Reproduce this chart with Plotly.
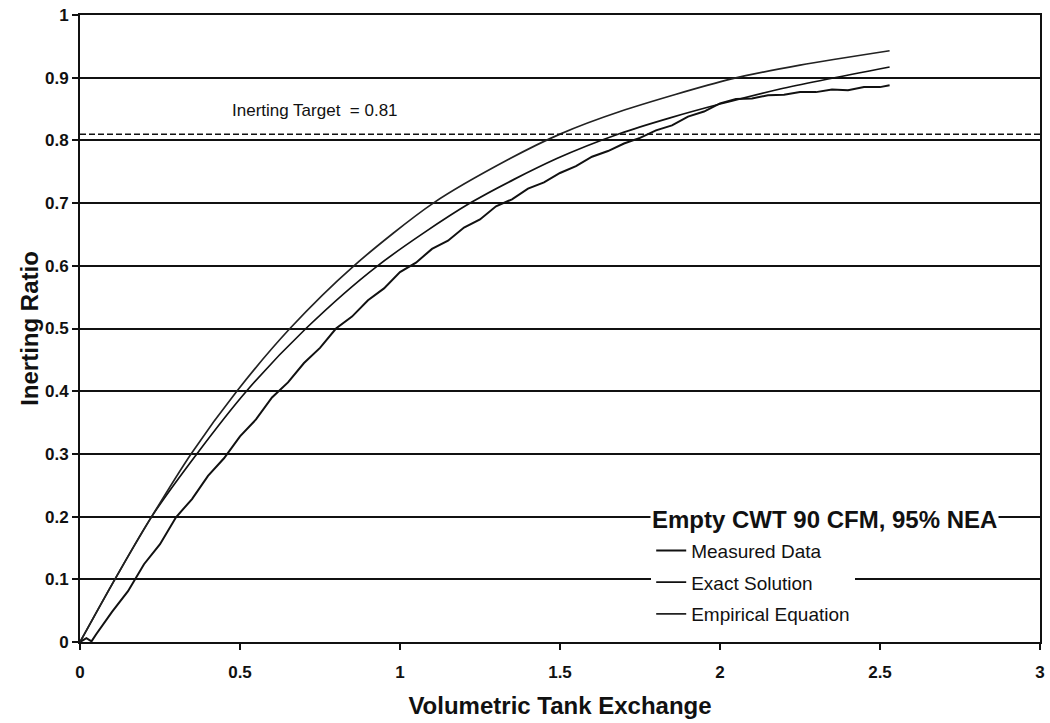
import plotly.graph_objects as go

# ---- data ----
measured_x = [0.00, 0.02, 0.036, 0.05, 0.10, 0.15, 0.20, 0.25, 0.30, 0.35, 0.40, 0.45, 0.50, 0.55, 0.60,
              0.65, 0.70, 0.75, 0.80, 0.85, 0.90, 0.95, 1.00, 1.05, 1.10, 1.15, 1.20, 1.25, 1.30,
              1.35, 1.40, 1.45, 1.50, 1.55, 1.60, 1.65, 1.70, 1.75, 1.80, 1.85, 1.90, 1.95, 2.00,
              2.05, 2.10, 2.15, 2.20, 2.25, 2.30, 2.35, 2.40, 2.45, 2.50, 2.53]
measured_y = [0.000, 0.006, 0.001, 0.012, 0.048, 0.081, 0.124, 0.156, 0.199, 0.228, 0.265, 0.293, 0.328,
              0.355, 0.390, 0.414, 0.445, 0.469, 0.500, 0.519, 0.545, 0.564, 0.590, 0.605, 0.627,
              0.640, 0.661, 0.674, 0.695, 0.706, 0.723, 0.733, 0.748, 0.759, 0.774, 0.783, 0.795,
              0.804, 0.816, 0.824, 0.838, 0.846, 0.859, 0.866, 0.867, 0.872, 0.873, 0.877, 0.877,
              0.881, 0.880, 0.885, 0.885, 0.888]

exact_x = [0.0, 0.109, 0.224, 0.365, 0.52, 0.706, 0.93, 1.219, 1.49, 1.6875, 1.844,
           2.0, 2.1875, 2.53]
exact_y = [0.0, 0.100, 0.200, 0.300, 0.400, 0.500, 0.600, 0.700, 0.771, 0.811, 0.836,
           0.858, 0.882, 0.917]

empirical_x = [0.0, 0.109, 0.224, 0.347, 0.49, 0.656, 0.856, 1.104, 1.344, 1.5, 1.6875,
               2.036, 2.25, 2.53]
empirical_y = [0.0, 0.100, 0.200, 0.300, 0.400, 0.500, 0.600, 0.700, 0.771, 0.810,
               0.846, 0.898, 0.920, 0.943]

inerting_target = 0.81
x_ticks = [0, 0.5, 1, 1.5, 2, 2.5, 3]
x_tick_labels = ["0", "0.5", "1", "1.5", "2", "2.5", "3"]
y_ticks = [0, 0.1, 0.2, 0.3, 0.4, 0.5, 0.6, 0.7, 0.8, 0.9, 1]
y_tick_labels = ["0", "0.1", "0.2", "0.3", "0.4", "0.5", "0.6", "0.7", "0.8", "0.9", "1"]

FONT = "Liberation Sans, Arial, sans-serif"
INK = "#111111"

fig = go.Figure()
fig.add_trace(go.Scatter(x=measured_x, y=measured_y, mode="lines", name="Measured Data",
                         line=dict(color=INK, width=2), legendgroup="a"))
fig.add_trace(go.Scatter(x=exact_x, y=exact_y, mode="lines", name="Exact Solution",
                         line=dict(color=INK, width=1.7, shape="spline", smoothing=0.8), legendgroup="b"))
fig.add_trace(go.Scatter(x=empirical_x, y=empirical_y, mode="lines", name="Empirical Equation",
                         line=dict(color="#222222", width=1.7, shape="spline", smoothing=0.8),
                         legendgroup="c"))

fig.add_hline(y=inerting_target, line=dict(color=INK, width=1.5, dash="6px,3px"), layer="above")

fig.add_annotation(x=0.469, y=0.848, xref="x", yref="y", text="Inerting Target\u00a0 = 0.81",
                   showarrow=False, xanchor="left", yanchor="middle",
                   font=dict(family=FONT, size=17, color=INK))
fig.add_annotation(x=0.776, y=0.195, xref="paper", yref="paper", text="<b>Empty CWT 90 CFM, 95% NEA</b>",
                   showarrow=False, xanchor="center", yanchor="middle", bgcolor="white",
                   font=dict(family=FONT, size=24, color=INK))

fig.update_layout(
    width=1050, height=723,
    margin=dict(l=80, r=5, t=15, b=81),
    paper_bgcolor="white", plot_bgcolor="white",
    font=dict(family=FONT, color=INK),
    legend=dict(x=0.595, y=0.176, xanchor="left", yanchor="top", bgcolor="white",
                font=dict(family=FONT, size=19, color=INK), tracegroupgap=4,
                traceorder="grouped", itemwidth=30),
    showlegend=True,
)
fig.update_xaxes(range=[0, 3], tickvals=x_ticks, ticktext=x_tick_labels, showgrid=False, zeroline=False,
                 showline=True, linecolor=INK, linewidth=2, mirror=True,
                 ticks="outside", ticklen=6, tickcolor=INK, tickwidth=1.5, ticklabelstandoff=8,
                 tickfont=dict(family=FONT, size=17, color=INK, weight="bold"),
                 title=dict(text="<b>Volumetric Tank Exchange</b>", font=dict(family=FONT, size=24),
                            standoff=16))
fig.update_yaxes(range=[0, 1], tickvals=y_ticks, ticktext=y_tick_labels, showgrid=True,
                 gridcolor=INK, gridwidth=1.5, zeroline=False,
                 showline=True, linecolor=INK, linewidth=2, mirror=True,
                 ticks="outside", ticklen=6, tickcolor=INK, tickwidth=1.5,
                 tickfont=dict(family=FONT, size=17, color=INK, weight="bold"),
                 title=dict(text="<b>Inerting Ratio</b>", font=dict(family=FONT, size=24), standoff=0))

fig.write_html("out.html")
